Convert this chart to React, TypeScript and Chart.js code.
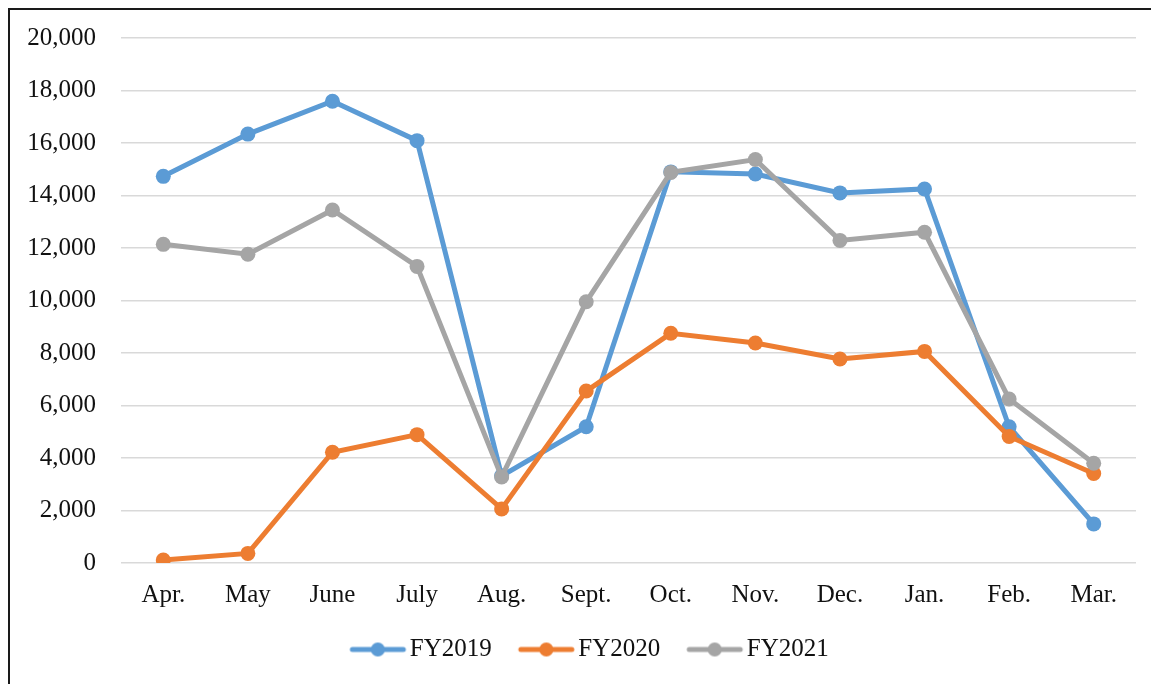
import React, { useEffect, useRef } from "react";
import { Chart, registerables } from "chart.js";

Chart.register(...registerables);

const categories = ["Apr.", "May", "June", "July", "Aug.", "Sept.", "Oct.", "Nov.", "Dec.", "Jan.", "Feb.", "Mar."];
const fy2019 = [14730, 16340, 17590, 16090, 3320, 5190, 14900, 14820, 14100, 14250, 5190, 1490];
const fy2020 = [110, 365, 4220, 4890, 2060, 6550, 8750, 8380, 7770, 8060, 4820, 3410];
const fy2021 = [12140, 11760, 13450, 11300, 3280, 9950, 14880, 15370, 12290, 12600, 6250, 3800];
const seriesNames = ["FY2019", "FY2020", "FY2021"];
const seriesColors = ["#5B9BD5", "#ED7D31", "#A5A5A5"];
const yMin = 0;
const yMax = 20000;
const yStep = 2000;

const FONT = "'Liberation Serif', 'Times New Roman', serif";

function legendIcon(color: string): HTMLCanvasElement {
  const c = document.createElement("canvas");
  c.width = 84;
  c.height = 16;
  const ctx = c.getContext("2d")!;
  ctx.strokeStyle = color;
  ctx.lineWidth = 5;
  ctx.lineCap = "round";
  ctx.beginPath();
  ctx.moveTo(29, 8);
  ctx.lineTo(80, 8);
  ctx.stroke();
  ctx.fillStyle = color;
  ctx.beginPath();
  ctx.arc(54.5, 8, 7, 0, Math.PI * 2);
  ctx.fill();
  return c;
}

export default function App() {
  const ref = useRef<HTMLCanvasElement | null>(null);
  useEffect(() => {
    document.documentElement.style.overflow = "hidden";
    document.body.style.overflow = "hidden";
    const values = [fy2019, fy2020, fy2021];
    const icons = seriesColors.map(legendIcon);
    const chart = new Chart(ref.current!, {
      type: "line",
      data: {
        labels: categories,
        datasets: seriesNames.map((name, i) => ({
          label: name,
          data: values[i],
          order: 3 - i,
          borderColor: seriesColors[i],
          backgroundColor: seriesColors[i],
          borderWidth: 5,
          pointRadius: 7.5,
          pointBorderWidth: 0,
          pointBackgroundColor: seriesColors[i],
          tension: 0,
        })),
      },
      options: {
        responsive: false,
        animation: false,
        layout: { padding: { left: 16, right: 33, top: 28, bottom: 12 } },
        plugins: {
          tooltip: { enabled: false },
          legend: {
            position: "bottom",
            labels: {
              usePointStyle: true,
              pointStyleWidth: 64,
              padding: 10,
              color: "#111",
              font: { family: FONT, size: 25 },
              generateLabels: (ch: any) =>
                ch.data.datasets.map((ds: any, i: number) => ({
                  text: ds.label,
                  pointStyle: icons[i],
                  fillStyle: seriesColors[i],
                  strokeStyle: seriesColors[i],
                  lineWidth: 0,
                  hidden: false,
                  datasetIndex: i,
                  fontColor: "#111",
                })),
            },
          },
        },
        scales: {
          x: {
            offset: true,
            grid: { display: false, drawTicks: false },
            border: { display: false },
            ticks: { color: "#111", font: { family: FONT, size: 25 }, padding: 17, maxRotation: 0 },
            afterFit: (s: any) => {
              s.height = 64;
            },
          },
          y: {
            min: yMin,
            max: yMax,
            grid: { color: "#d9d9d9", lineWidth: 1.5, drawTicks: false },
            border: { display: false },
            ticks: {
              stepSize: yStep,
              color: "#111",
              padding: 25,
              font: { family: FONT, size: 25 },
              callback: (v: any) => Number(v).toLocaleString("en-US"),
            },
            afterFit: (s: any) => {
              s.width = 95;
              s.paddingTop = 0;
              s.paddingBottom = 0;
            },
          },
        },
      },
    });
    return () => chart.destroy();
  }, []);
  return (
    <div
      style={{
        border: "2px solid #1a1a1a",
        width: 1190,
        height: 700,
        boxSizing: "border-box",
        background: "#fff",
      }}
    >
      <canvas ref={ref} width={1159} height={674} style={{ display: "block" }} />
    </div>
  );
}
